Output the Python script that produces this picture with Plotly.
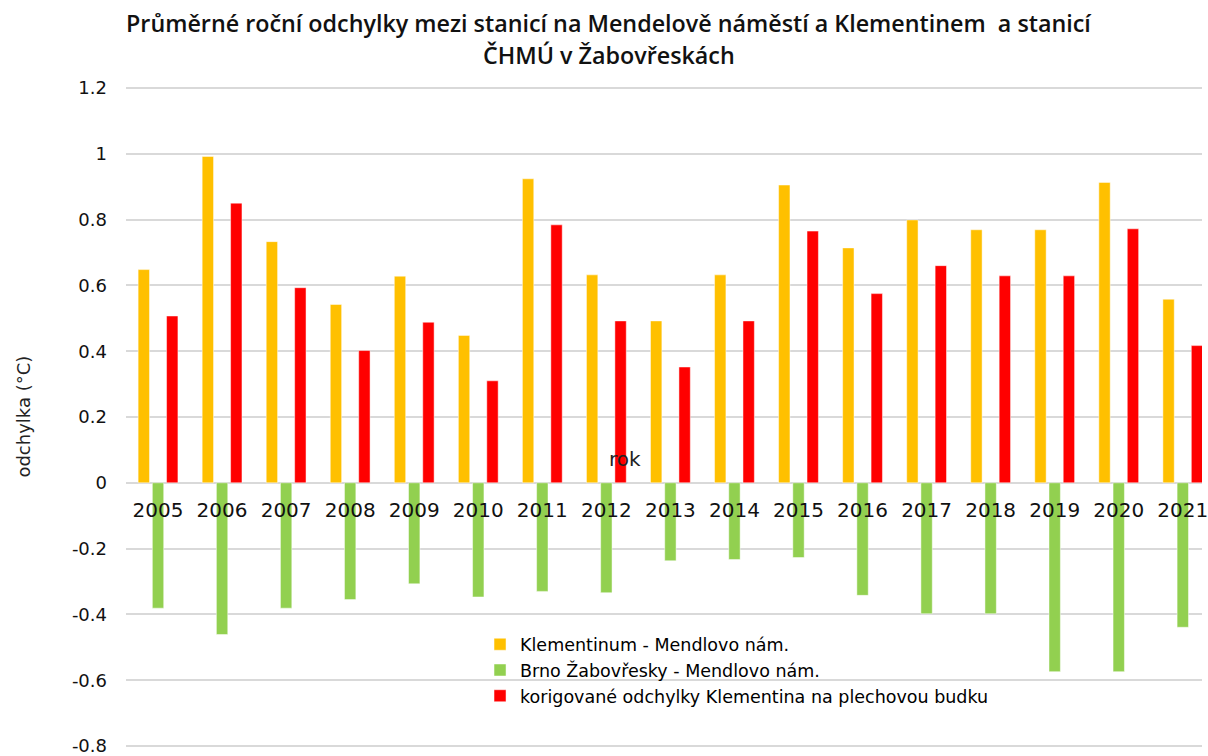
import plotly.graph_objects as go

years = [str(y) for y in range(2005, 2022)]
klementinum = [0.648, 0.992, 0.733, 0.542, 0.628, 0.448, 0.924, 0.632, 0.492,
               0.632, 0.905, 0.714, 0.799, 0.769, 0.769, 0.913, 0.558]
zabovresky = [-0.381, -0.461, -0.381, -0.355, -0.307, -0.347, -0.330, -0.334, -0.237,
              -0.233, -0.227, -0.342, -0.398, -0.398, -0.574, -0.574, -0.439]
korigovane = [0.507, 0.850, 0.593, 0.402, 0.488, 0.310, 0.784, 0.492, 0.352,
              0.492, 0.765, 0.575, 0.660, 0.629, 0.629, 0.772, 0.417]

y_tickvals = [-0.8, -0.6, -0.4, -0.2, 0, 0.2, 0.4, 0.6, 0.8, 1.0, 1.2]
y_ticktext = ["-0.8", "-0.6", "-0.4", "-0.2", "0", "0.2", "0.4", "0.6", "0.8", "1", "1.2"]

names = ["Klementinum - Mendlovo nám.",
         "Brno Žabovřesky - Mendlovo nám.",
         "korigované odchylky Klementina na plechovou budku"]
colors = ["#FFC000", "#92D050", "#FF0000"]
series = [klementinum, zabovresky, korigovane]

fig = go.Figure()
for n, c, v in zip(names, colors, series):
    fig.add_trace(go.Bar(x=years, y=v, name=n,
                         marker=dict(color=c, line=dict(color="rgba(255,255,255,0.6)", width=0.8))))

W, H = 1208, 756
L, R, T, B = 126, 0, 86, 6
pw, ph = W - L - R, H - T - B
y_lo, y_hi = -0.806, 1.206

def px_x(x):
    return (x - L) / pw

def px_y(y):
    return (H - B - y) / ph

zero_pos = (0 - y_lo) / (y_hi - y_lo)

fig.update_layout(
    width=W, height=H,
    margin=dict(l=L, r=R, t=T, b=B),
    paper_bgcolor="white", plot_bgcolor="white",
    barmode="group", bargap=0.334, bargroupgap=0.2,
    showlegend=True,
    legend=dict(x=px_x(482), y=px_y(628), xanchor="left", yanchor="top",
                bgcolor="rgba(0,0,0,0)", font=dict(family="DejaVu Sans", size=17.5, color="#000"),
                tracegroupgap=0, itemwidth=30),
    xaxis=dict(type="category", range=[-0.5, 16.30], anchor="free", position=zero_pos,
               showgrid=False, showline=False, ticks="",
               tickfont=dict(family="DejaVu Sans", size=20, color="#111"),
               ticklabelstandoff=13),
    yaxis=dict(range=[y_lo, y_hi], tickvals=y_tickvals, ticktext=y_ticktext,
               showgrid=True, ticklabeloverflow="allow",
               gridcolor="#d9d9d9", gridwidth=1.5, zeroline=True,
               zerolinecolor="#d9d9d9", zerolinewidth=1.5,
               tickfont=dict(family="DejaVu Sans", size=18, color="#111"),
               ticklabelstandoff=18),
    annotations=[
        dict(text="Průměrné roční odchylky mezi stanicí na Mendelově náměstí a Klementinem  a stanicí",
             xref="paper", yref="paper", x=px_x(612), y=px_y(23), showarrow=False,
             xanchor="center", yanchor="middle",
             font=dict(family="Open Sans", size=23.3, color="#111", weight=600)),
        dict(text="ČHMÚ v Žabovřeskách",
             xref="paper", yref="paper", x=px_x(612), y=px_y(55), showarrow=False,
             xanchor="center", yanchor="middle",
             font=dict(family="Open Sans", size=23.3, color="#111", weight=600)),
        dict(text="odchylka (°C)", xref="paper", yref="paper", x=px_x(22), y=px_y(418),
             showarrow=False, textangle=-90, xanchor="center", yanchor="middle",
             font=dict(family="DejaVu Sans", size=18, color="#222")),
        dict(text="rok", xref="paper", yref="paper", x=px_x(628), y=px_y(460),
             showarrow=False, xanchor="center", yanchor="middle",
             font=dict(family="DejaVu Sans", size=20, color="#222")),
    ],
)

fig.write_html("out.html")
